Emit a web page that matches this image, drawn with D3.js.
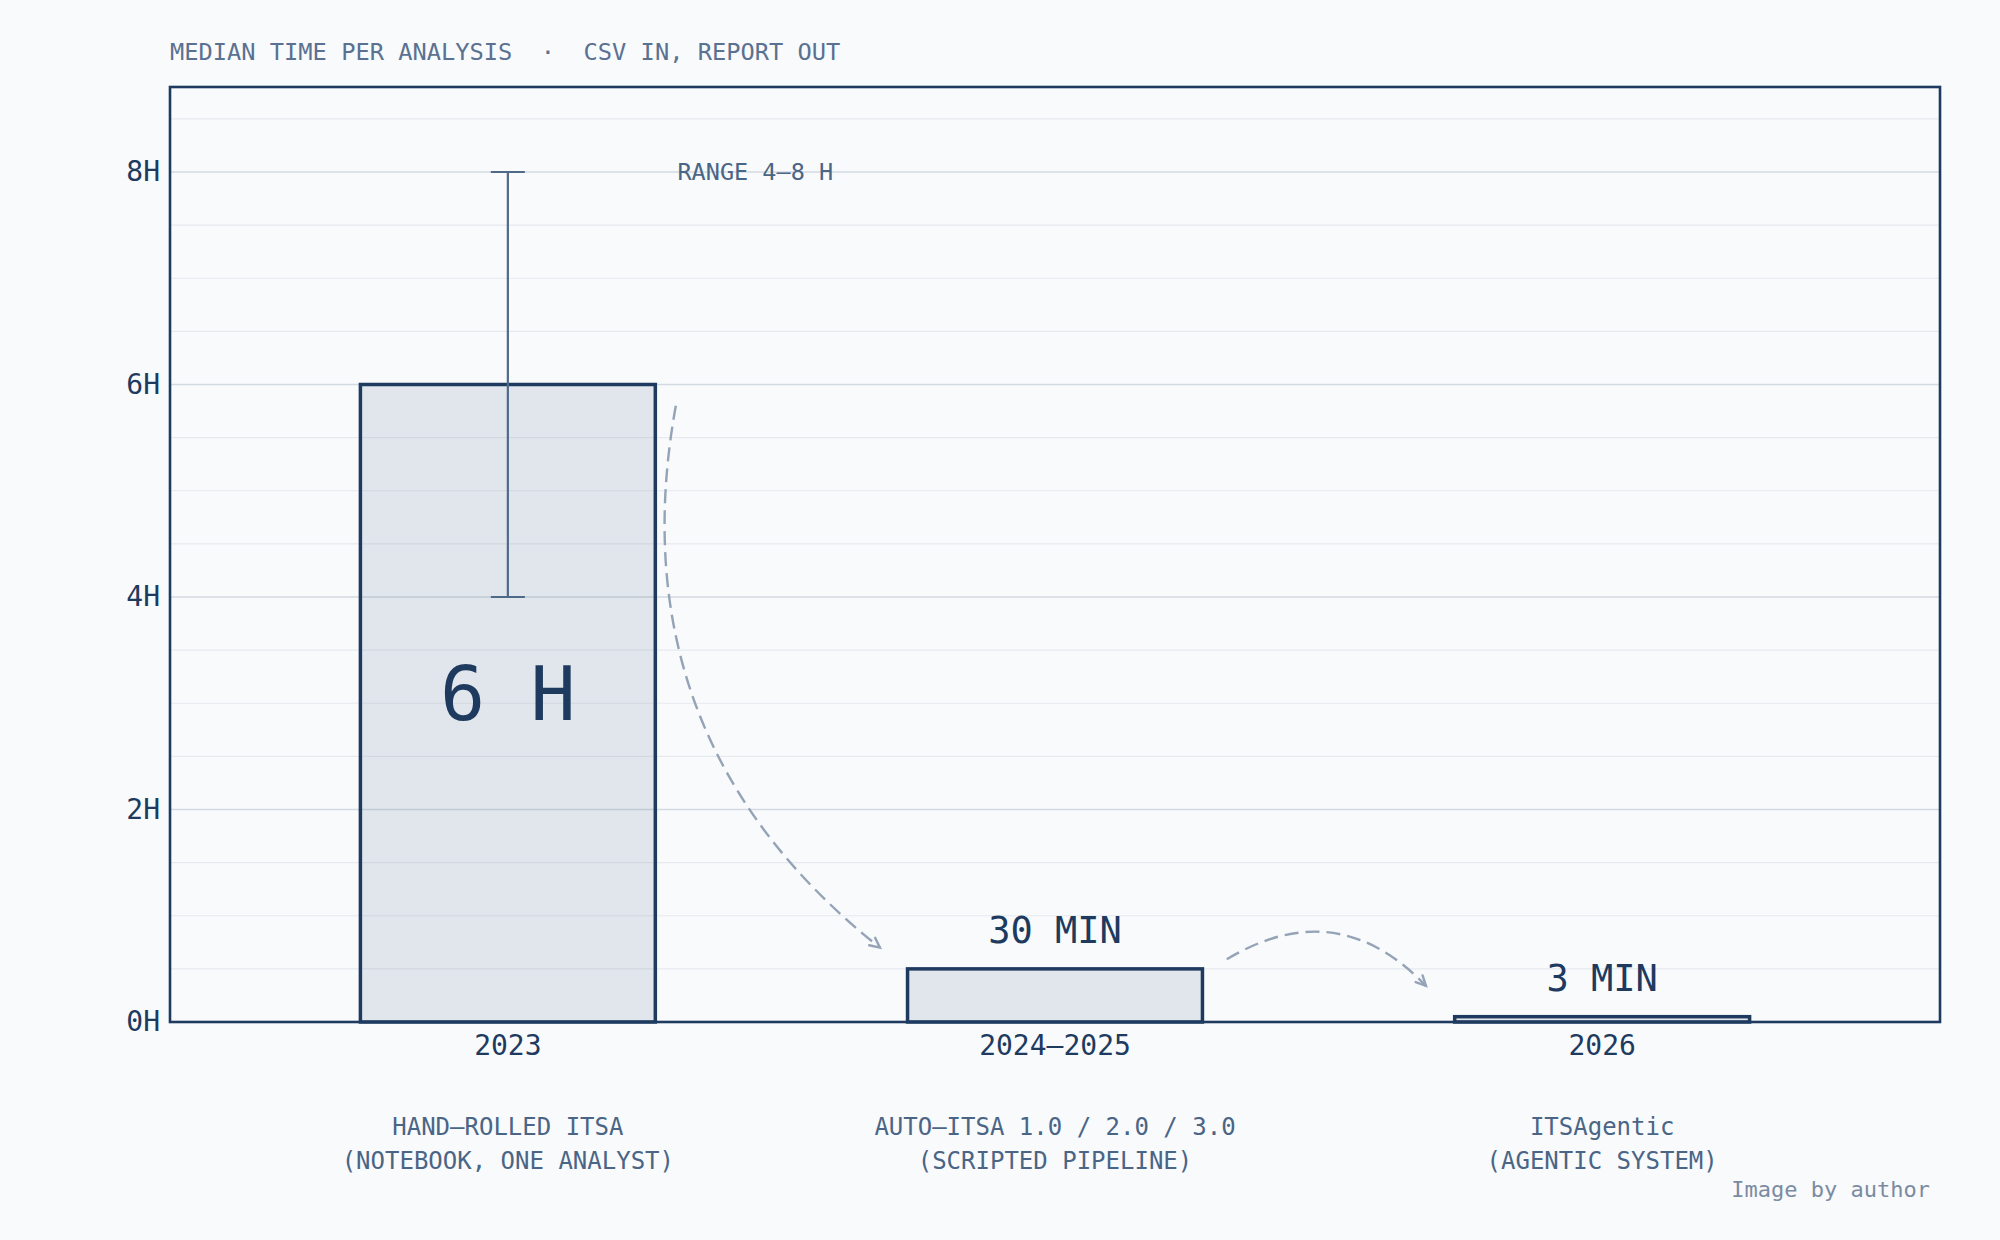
<!DOCTYPE html>
<html>
<head>
<meta charset="utf-8">
<script src="https://cdn.jsdelivr.net/npm/d3@7"></script>
<style>
  html, body { margin: 0; padding: 0; background: #f8fafc; }
  svg { display: block; }
  text { font-family: "DejaVu Sans Mono", "Liberation Mono", monospace; white-space: pre; }
</style>
</head>
<body>
<svg id="chart" width="2000" height="1240"></svg>
<script>
// ---- data ----
const categories = ["2023", "2024–2025", "2026"];
const subLabelLine1 = ["HAND–ROLLED ITSA", "AUTO–ITSA 1.0 / 2.0 / 3.0", "ITSAgentic"];
const subLabelLine2 = ["(NOTEBOOK, ONE ANALYST)", "(SCRIPTED PIPELINE)", "(AGENTIC SYSTEM)"];
const medianHours = [6, 0.5, 0.05];
const valueLabels = ["6 H", "30 MIN", "3 MIN"];
const rangeLow = [4, null, null];
const rangeHigh = [8, null, null];
const yMajorTicks = [0, 2, 4, 6, 8];
const yMajorLabels = ["0H", "2H", "4H", "6H", "8H"];
const yMinorTicks = [0.5, 1, 1.5, 2.5, 3, 3.5, 4.5, 5, 5.5, 6.5, 7, 7.5, 8.5];
const titleText = "MEDIAN TIME PER ANALYSIS  ·  CSV IN, REPORT OUT";
const rangeText = "RANGE 4–8 H";
const creditText = "Image by author";
// annotation arrows: [category index, offset in category steps, hours] -> same, bend (arc3 rad)
const arrowFrom = [[0, 0.307, 5.8], [1, 0.314, 0.59]];
const arrowTo   = [[1, -0.32, 0.70], [2, -0.322, 0.34]];
const arrowBend = [0.3, -0.4];

// ---- layout ----
const W = 2000, H = 1240;
const plot = { left: 170, right: 1940, top: 87, bottom: 1022 };
const navy = "#1e3a5f";
const slate = "#4a6585";

const svg = d3.select("#chart");
svg.append("rect").attr("width", W).attr("height", H).attr("fill", "#f8fafc");

const x = d3.scaleBand().domain(categories).range([plot.left, plot.right])
  .paddingInner(0.461).paddingOuter(0.348);
const y = d3.scaleLinear().domain([0, 8.8]).range([plot.bottom, plot.top]);
const cx = c => x(c) + x.bandwidth() / 2;
const px = (i, off) => cx(categories[i]) + off * x.step();

// grid
svg.append("g").selectAll("line").data(yMinorTicks).join("line")
  .attr("x1", plot.left).attr("x2", plot.right)
  .attr("y1", d => y(d)).attr("y2", d => y(d))
  .attr("stroke", "#e6eaef").attr("stroke-width", 1.2);
svg.append("g").selectAll("line").data(yMajorTicks).join("line")
  .attr("x1", plot.left).attr("x2", plot.right)
  .attr("y1", d => y(d)).attr("y2", d => y(d))
  .attr("stroke", "#d3dae2").attr("stroke-width", 1.6);

// bars
svg.append("g").selectAll("rect").data(medianHours).join("rect")
  .attr("x", (d, i) => x(categories[i]))
  .attr("width", x.bandwidth())
  .attr("y", d => y(d))
  .attr("height", d => y(0) - y(d))
  .attr("fill", navy).attr("fill-opacity", 0.1)
  .attr("stroke", navy).attr("stroke-width", 3.5);

// error bars
const eb = svg.append("g").attr("stroke", "#4f6a89").attr("stroke-width", 2.2);
medianHours.forEach((v, i) => {
  if (rangeLow[i] == null) return;
  const c = cx(categories[i]);
  eb.append("line").attr("x1", c).attr("x2", c).attr("y1", y(rangeLow[i])).attr("y2", y(rangeHigh[i]));
  [rangeLow[i], rangeHigh[i]].forEach(t => {
    eb.append("line").attr("x1", c - 17).attr("x2", c + 17).attr("y1", y(t)).attr("y2", y(t));
  });
});

// frame
svg.append("rect")
  .attr("x", plot.left).attr("y", plot.top)
  .attr("width", plot.right - plot.left).attr("height", plot.bottom - plot.top)
  .attr("fill", "none").attr("stroke", navy).attr("stroke-width", 2.6);

// y axis labels
const yAxis = d3.axisLeft(y).tickValues(yMajorTicks).tickSize(0).tickPadding(10)
  .tickFormat((d, i) => yMajorLabels[i]);
const gy = svg.append("g").attr("transform", `translate(${plot.left},0)`).call(yAxis);
gy.select(".domain").remove();
gy.selectAll("text").attr("font-size", 28).attr("fill", navy)
  .attr("font-family", '"DejaVu Sans Mono", monospace');

// x axis labels
const xAxis = d3.axisBottom(x).tickSize(0).tickPadding(12);
const gx = svg.append("g").attr("transform", `translate(0,${plot.bottom})`).call(xAxis);
gx.select(".domain").remove();
gx.selectAll("text").attr("font-size", 28).attr("fill", navy)
  .attr("font-family", '"DejaVu Sans Mono", monospace').attr("dy", null)
  .attr("y", 33);

// sub labels
const sub = svg.append("g").attr("font-size", 24).attr("fill", slate).attr("text-anchor", "middle");
categories.forEach((c, i) => {
  sub.append("text").attr("x", cx(c)).attr("y", 1135).text(subLabelLine1[i]);
  sub.append("text").attr("x", cx(c)).attr("y", 1169).text(subLabelLine2[i]);
});

// value labels
medianHours.forEach((v, i) => {
  const c = cx(categories[i]);
  if (v > 2) {
    svg.append("text").attr("x", c).attr("y", y(v / 2) + 17)
      .attr("text-anchor", "middle").attr("font-size", 75).attr("fill", navy)
      .text(valueLabels[i]);
  } else {
    svg.append("text").attr("x", c).attr("y", y(v + 0.25) + 1)
      .attr("text-anchor", "middle").attr("font-size", 37).attr("fill", navy)
      .text(valueLabels[i]);
  }
});

// range note
svg.append("text").attr("x", px(0, 0.31)).attr("y", y(8) + 8)
  .attr("font-size", 23.5).attr("fill", slate).text(rangeText);

// title
svg.append("text").attr("x", plot.left).attr("y", 60)
  .attr("font-size", 23.7).attr("fill", "#5a7191")
  .attr("xml:space", "preserve").text(titleText);

// credit
svg.append("text").attr("x", 1930).attr("y", 1197).attr("text-anchor", "end")
  .attr("font-size", 22).attr("fill", "#7b8ba1").text(creditText);

// arrows
const arrowColor = "#94a3b6";
arrowFrom.forEach((f, k) => {
  const t = arrowTo[k];
  const sx = px(f[0], f[1]), sy = y(f[2]);
  const ex = px(t[0], t[1]), ey = y(t[2]);
  const rad = arrowBend[k];
  const mx = (sx + ex) / 2, my = (sy + ey) / 2;
  const ccx = mx - rad * (ey - sy);
  const ccy = my + rad * (ex - sx);
  const p = d3.path();
  p.moveTo(sx, sy);
  p.quadraticCurveTo(ccx, ccy, ex, ey);
  svg.append("path").attr("d", p.toString()).attr("fill", "none")
    .attr("stroke", arrowColor).attr("stroke-width", 2.4)
    .attr("stroke-dasharray", "14,7");
  const ang = Math.atan2(ey - ccy, ex - ccx);
  const hl = 11, ha = 0.45;
  const h = d3.path();
  h.moveTo(ex - hl * Math.cos(ang - ha), ey - hl * Math.sin(ang - ha));
  h.lineTo(ex, ey);
  h.lineTo(ex - hl * Math.cos(ang + ha), ey - hl * Math.sin(ang + ha));
  svg.append("path").attr("d", h.toString()).attr("fill", "none")
    .attr("stroke", arrowColor).attr("stroke-width", 2.4).attr("stroke-linecap", "round");
});
</script>
</body>
</html>
